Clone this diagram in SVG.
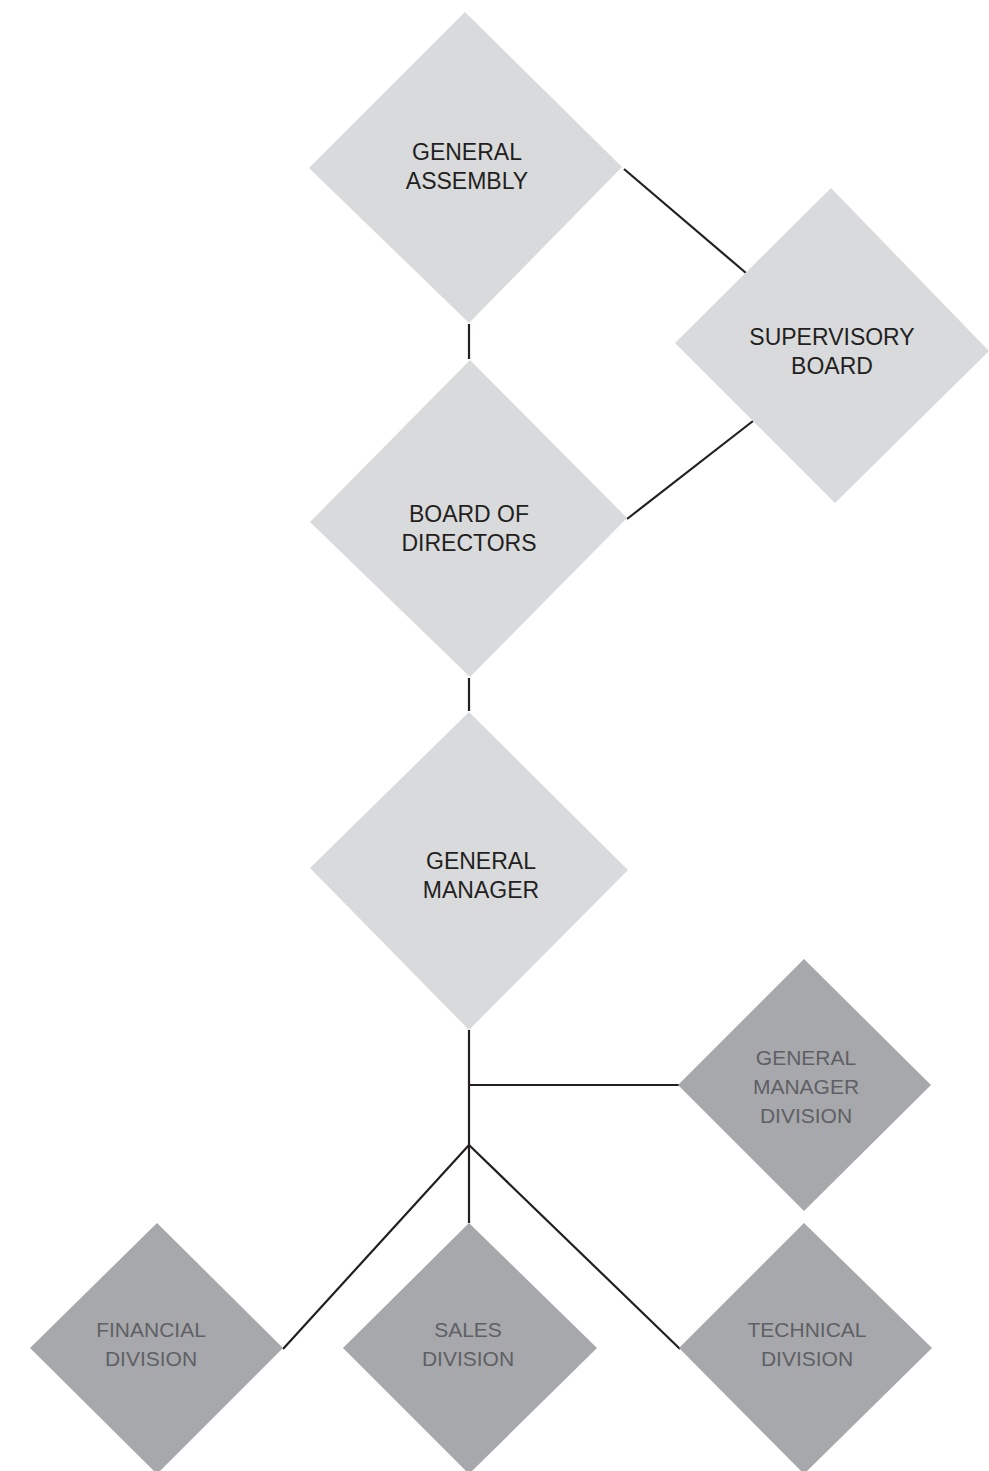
<svg xmlns="http://www.w3.org/2000/svg" width="989" height="1471" viewBox="0 0 989 1471">
<style>
.light{fill:#d9dadc}
.dark{fill:#a7a8ab}
.lt{font-family:"Liberation Sans",Arial,sans-serif;font-size:23px;fill:#231f20;text-anchor:middle}
.dt{font-family:"Liberation Sans",Arial,sans-serif;font-size:21px;fill:#5f6065;text-anchor:middle}
.conn line{stroke:#231f20;stroke-width:2.2;fill:none}
</style>
<rect width="989" height="1471" fill="#ffffff"/>
<g id="connectors" class="conn">
<line x1="624" y1="169" x2="746" y2="273"/>
<line x1="469" y1="324" x2="469" y2="359"/>
<line x1="627" y1="519" x2="753" y2="421"/>
<line x1="469" y1="678" x2="469" y2="711"/>
<line x1="469" y1="1030" x2="469" y2="1223"/>
<line x1="469" y1="1085" x2="679" y2="1085"/>
<line x1="469" y1="1145" x2="283" y2="1349"/>
<line x1="469" y1="1145" x2="680" y2="1349"/>
</g>
<g id="general-assembly">
<polygon class="light" points="465,12 622,167 469,323 309,168"/>
<text class="lt" x="467" y="160">GENERAL</text>
<text class="lt" x="467" y="189">ASSEMBLY</text>
</g>
<g id="supervisory-board">
<polygon class="light" points="831,188 989,351 835,503 675,343"/>
<text class="lt" x="832" y="345">SUPERVISORY</text>
<text class="lt" x="832" y="374">BOARD</text>
</g>
<g id="board-of-directors">
<polygon class="light" points="470,360 627,518 470,677 310,522"/>
<text class="lt" x="469" y="522">BOARD OF</text>
<text class="lt" x="469" y="551">DIRECTORS</text>
</g>
<g id="general-manager">
<polygon class="light" points="469,712 628,870 469,1030 310,868"/>
<text class="lt" x="481" y="869">GENERAL</text>
<text class="lt" x="481" y="898">MANAGER</text>
</g>
<g id="general-manager-division">
<polygon class="dark" points="804,959 931,1085 804,1211 678,1085"/>
<text class="dt" x="806" y="1065">GENERAL</text>
<text class="dt" x="806" y="1094">MANAGER</text>
<text class="dt" x="806" y="1123">DIVISION</text>
</g>
<g id="financial-division">
<polygon class="dark" points="157,1223 283,1348 157,1474 30,1348"/>
<text class="dt" x="151" y="1337">FINANCIAL</text>
<text class="dt" x="151" y="1366">DIVISION</text>
</g>
<g id="sales-division">
<polygon class="dark" points="469,1223 597,1348 469,1474 343,1348"/>
<text class="dt" x="468" y="1337">SALES</text>
<text class="dt" x="468" y="1366">DIVISION</text>
</g>
<g id="technical-division">
<polygon class="dark" points="804,1223 932,1348 804,1474 679,1348"/>
<text class="dt" x="807" y="1337">TECHNICAL</text>
<text class="dt" x="807" y="1366">DIVISION</text>
</g>
</svg>
